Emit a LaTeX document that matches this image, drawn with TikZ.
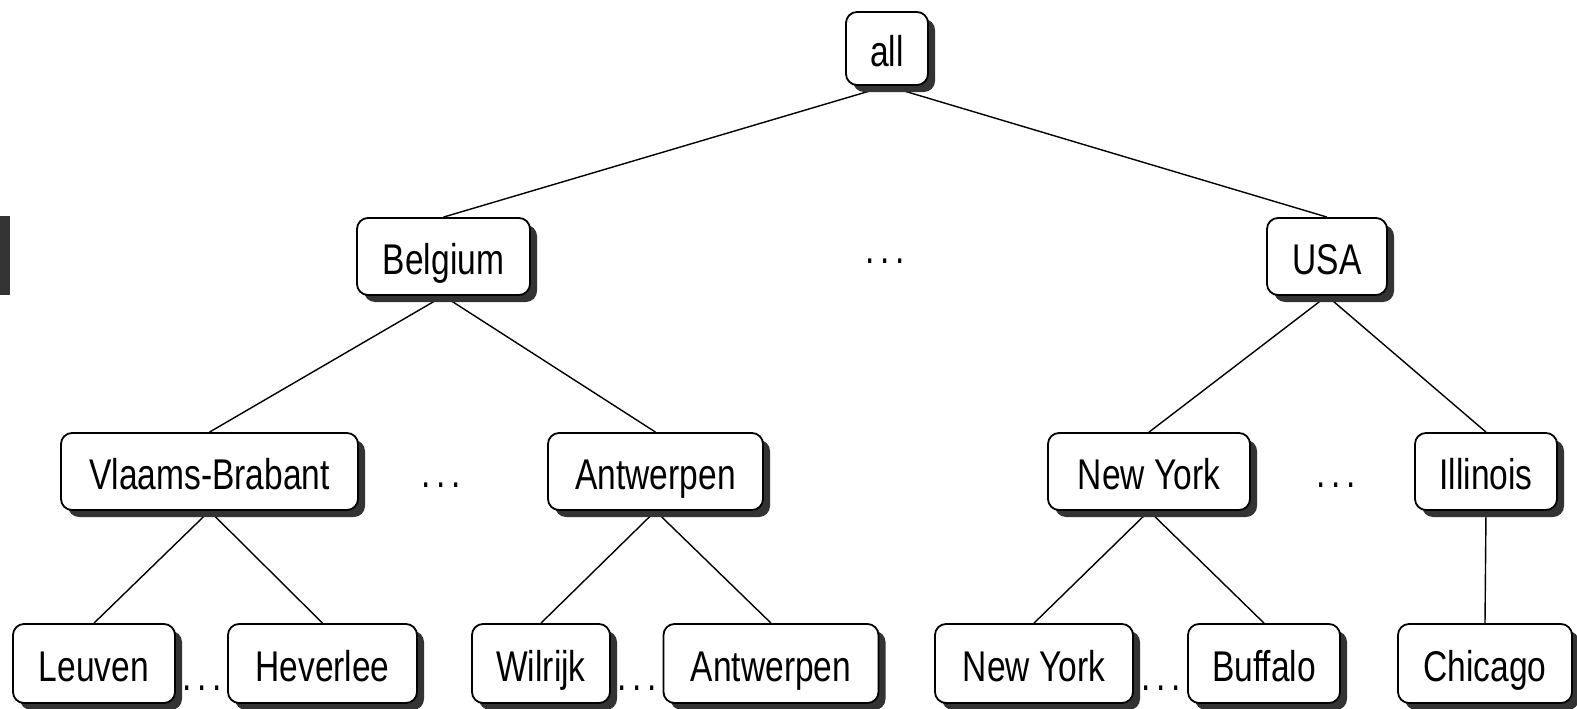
\documentclass[tikz,border=0pt]{standalone}
\usepackage{fontspec}
\setmainfont{Liberation Sans}[FakeStretch=0.78]
\usetikzlibrary{shadows,backgrounds}
\definecolor{darkgrey}{HTML}{333333}
\newcommand{\gapdots}{.\kern5.5pt.\kern5.5pt.}
\tikzset{
  place/.style={draw=black, line width=1.8pt, fill=white, rounded corners=11pt,
    inner sep=0pt, text height=36pt, text depth=0pt,
    font=\fontsize{43}{50}\selectfont,
    general shadow={fill=darkgrey, draw=none, shadow xshift=7pt, shadow yshift=-7pt}},
  link/.style={line width=1.4pt},
  gap/.style={font=\fontsize{43}{50}\selectfont, inner sep=0pt, anchor=base}
}
\begin{document}
\begin{tikzpicture}[x=1pt,y=-1pt]
\useasboundingbox (0,0) rectangle (1577,709);
\fill[darkgrey] (0,216) rectangle (10,295);

% level 0
\node[place, minimum width=82pt, minimum height=73pt] (all) at (887,48.5) {all};
% level 1
\node[place, minimum width=173pt, minimum height=77pt] (bel) at (443.5,256.5) {Belgium};
\node[place, minimum width=120pt, minimum height=77pt] (usa) at (1327,256.5) {USA};
% level 2
\node[place, minimum width=297pt, minimum height=77pt] (vb) at (209.5,471.5) {Vlaams-Brabant};
\node[place, minimum width=215pt, minimum height=77pt] (ant) at (655.5,471.5) {Antwerpen};
\node[place, minimum width=202pt, minimum height=77pt] (nys) at (1149,471.5) {New York};
\node[place, minimum width=142pt, minimum height=77pt] (ill) at (1486,471.5) {Illinois};
% level 3
\node[place, minimum width=162pt, minimum height=79pt] (leu) at (94,663.5) {Leuven};
\node[place, minimum width=189pt, minimum height=79pt] (hev) at (322.5,663.5) {Heverlee};
\node[place, minimum width=138pt, minimum height=79pt] (wil) at (541,663.5) {Wilrijk};
\node[place, minimum width=215pt, minimum height=79pt] (antc) at (771,663.5) {Antwerpen};
\node[place, minimum width=198pt, minimum height=79pt] (nyc) at (1034,663.5) {New York};
\node[place, minimum width=152pt, minimum height=79pt] (buf) at (1264,663.5) {Buffalo};
\node[place, minimum width=174pt, minimum height=79pt] (chi) at (1485,663.5) {Chicago};

% elided siblings
\node[gap] (g1) at (885,263) {\gapdots};
\node[gap] (g2) at (441,487) {\gapdots};
\node[gap] (g3) at (1336,487) {\gapdots};
\node[gap] (g4) at (202,690) {\gapdots};
\node[gap] (g5) at (637,690) {\gapdots};
\node[gap] (g6) at (1161,690) {\gapdots};

\begin{scope}[on background layer]
\draw[link] (all.south) -- (bel.north);
\draw[link] (all.south) -- (usa.north);
\draw[link] (bel.south) -- (vb.north);
\draw[link] (bel.south) -- (ant.north);
\draw[link] (usa.south) -- (nys.north);
\draw[link] (usa.south) -- (ill.north);
\draw[link] (vb.south) -- (leu.north);
\draw[link] (vb.south) -- (hev.north);
\draw[link] (ant.south) -- (wil.north);
\draw[link] (ant.south) -- (antc.north);
\draw[link] (nys.south) -- (nyc.north);
\draw[link] (nys.south) -- (buf.north);
\draw[link] (ill.south) -- (chi.north);
\end{scope}
\end{tikzpicture}
\end{document}
